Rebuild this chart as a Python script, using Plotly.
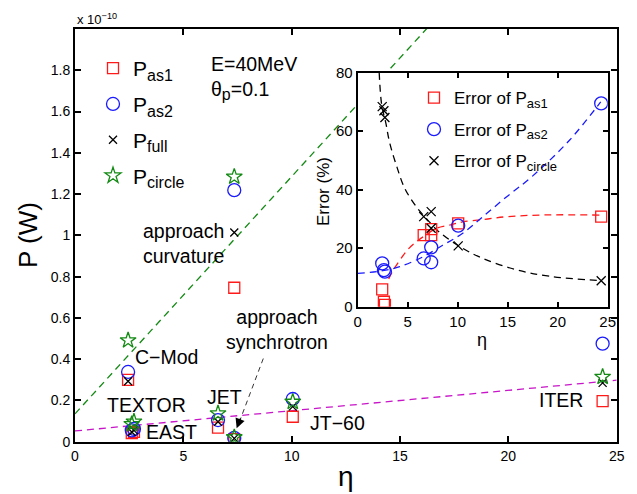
import plotly.graph_objects as go

# ---------------- data ----------------
# devices (order): C-Mod, EAST, TEXTOR, JET, (curvature case), (synchrotron case), JT-60, ITER
eta = [2.45, 2.62, 2.72, 6.6, 7.35, 7.35, 10.05, 24.35]
# powers in units of 1e-10 W
P_as1 = [0.300, 0.042, 0.048, 0.068, 0.746, 0.012, 0.121, 0.197]
P_as2 = [0.338, 0.055, 0.062, 0.105, 1.219, 0.0185, 0.207, 0.475]
P_full = [0.293, 0.047, 0.055, 0.097, 1.014, 0.016, 0.170, 0.285]
P_circle = [0.491, 0.085, 0.097, 0.137, 1.284, 0.021, 0.193, 0.314]

# main-panel dashed guide lines
green_eta = [0.0, 25.0]
green_P = [0.135, 3.01]
magenta_eta = [0.0, 25.0]
magenta_P = [0.052, 0.298]

# inset: errors in %
err_as1 = [5.9, 1.7, 0.6, 24.5, 26.5, 24.5, 28.5, 30.8]
err_as2 = [14.8, 12.5, 12.0, 16.5, 20.3, 15.2, 27.7, 69.5]
err_circle = [68.4, 67.0, 64.7, 30.8, 26.8, 32.5, 20.8, 8.9]

# inset dashed fit curves
fit_circle_eta = [2.15, 2.4, 2.8, 3.2, 3.9, 4.7, 5.9, 6.9, 8.0, 10.0, 12.5, 15.9, 19.2, 24.3]
fit_circle_err = [80.0, 69.0, 63.0, 56.0, 48.0, 40.5, 34.0, 30.0, 26.0, 21.0, 16.5, 12.6, 10.4, 8.9]
fit_as2_eta = [0.0, 2.5, 4.2, 6.5, 8.5, 10.5, 12.6, 14.9, 17.4, 21.2, 24.3]
fit_as2_err = [11.4, 12.3, 13.7, 17.0, 21.0, 25.1, 31.0, 37.6, 44.4, 57.0, 70.0]
fit_as1_eta = [3.1, 3.56, 4.23, 5.06, 5.9, 6.8, 7.9, 9.2, 10.5, 12.57, 15.0, 19.2, 24.3]
fit_as1_err = [9.5, 12.5, 16.0, 19.7, 22.3, 24.5, 26.8, 27.9, 29.0, 29.8, 30.8, 31.4, 31.3]

x_ticks = [0, 5, 10, 15, 20, 25]
y_ticks = [0, 0.2, 0.4, 0.6, 0.8, 1.0, 1.2, 1.4, 1.6, 1.8]
y_ticklabels = ["0", "0.2", "0.4", "0.6", "0.8", "1", "1.2", "1.4", "1.6", "1.8"]
inset_y_ticks = [0, 20, 40, 60, 80]

FONT = "Liberation Sans, Arial, Helvetica, sans-serif"
W, H = 637, 494
DASH = "7px,5px"

def sub(s, size):
    return "<sub><span style='font-size:%dpx'>%s</span></sub>" % (size, s)

fig = go.Figure()

# ---- main panel ----
fig.add_trace(go.Scatter(x=green_eta, y=green_P, mode="lines",
                         line=dict(color="#138a13", width=1.3, dash=DASH),
                         showlegend=False, hoverinfo="skip", xaxis="x", yaxis="y"))
fig.add_trace(go.Scatter(x=magenta_eta, y=magenta_P, mode="lines",
                         line=dict(color="#c814c8", width=1.3, dash=DASH),
                         showlegend=False, hoverinfo="skip", xaxis="x", yaxis="y"))

fig.add_trace(go.Scatter(x=eta, y=P_as1, mode="markers", name="P" + sub("as1", 16),
                         legend="legend", legendgroup="a",
                         marker=dict(symbol="square-open", size=11, color="#ff1a1a", line=dict(width=1.3)),
                         xaxis="x", yaxis="y"))
fig.add_trace(go.Scatter(x=eta, y=P_as2, mode="markers", name="P" + sub("as2", 16),
                         legend="legend", legendgroup="b",
                         marker=dict(symbol="circle-open", size=13, color="#1a1aff", line=dict(width=1.3)),
                         xaxis="x", yaxis="y"))
fig.add_trace(go.Scatter(x=eta, y=P_full, mode="markers", name="P" + sub("full", 16),
                         legend="legend", legendgroup="c",
                         marker=dict(symbol="x-thin-open", size=8, color="black", line=dict(width=1.3)),
                         xaxis="x", yaxis="y"))
fig.add_trace(go.Scatter(x=eta, y=P_circle, mode="markers", name="P" + sub("circle", 16),
                         legend="legend", legendgroup="d",
                         marker=dict(symbol="star-open", size=12, color="#138a13", line=dict(width=1.3)),
                         xaxis="x", yaxis="y"))

# ---- inset ----
fig.add_trace(go.Scatter(x=fit_as1_eta, y=fit_as1_err, mode="lines", line_shape="spline",
                         line=dict(color="#ff1a1a", width=1.3, dash=DASH),
                         showlegend=False, hoverinfo="skip", xaxis="x2", yaxis="y2"))
fig.add_trace(go.Scatter(x=fit_as2_eta, y=fit_as2_err, mode="lines", line_shape="spline",
                         line=dict(color="#1a1aff", width=1.3, dash=DASH),
                         showlegend=False, hoverinfo="skip", xaxis="x2", yaxis="y2"))
fig.add_trace(go.Scatter(x=fit_circle_eta, y=fit_circle_err, mode="lines", line_shape="spline",
                         line=dict(color="black", width=1.3, dash=DASH),
                         showlegend=False, hoverinfo="skip", xaxis="x2", yaxis="y2"))

fig.add_trace(go.Scatter(x=eta, y=err_as1, mode="markers", name="Error of P" + sub("as1", 13),
                         legend="legend2", legendgroup="e",
                         marker=dict(symbol="square-open", size=11, color="#ff1a1a", line=dict(width=1.3)),
                         xaxis="x2", yaxis="y2"))
fig.add_trace(go.Scatter(x=eta, y=err_as2, mode="markers", name="Error of P" + sub("as2", 13),
                         legend="legend2", legendgroup="f",
                         marker=dict(symbol="circle-open", size=13, color="#1a1aff", line=dict(width=1.3)),
                         xaxis="x2", yaxis="y2"))
fig.add_trace(go.Scatter(x=eta, y=err_circle, mode="markers", name="Error of P" + sub("circle", 13),
                         legend="legend2", legendgroup="g",
                         marker=dict(symbol="x-thin-open", size=9, color="black", line=dict(width=1.3)),
                         xaxis="x2", yaxis="y2"))

def px(x):
    return x / W

def py(y):
    return 1 - y / H

axis_common = dict(showline=True, linecolor="black", linewidth=2, mirror="ticks",
                   ticks="inside", tickcolor="black", tickwidth=1.5,
                   showgrid=False, zeroline=False, automargin=False)

fig.update_layout(
    template="none",
    width=W, height=H,
    margin=dict(l=0, r=0, t=0, b=0, pad=0, autoexpand=False),
    paper_bgcolor="white", plot_bgcolor="white",
    font=dict(family=FONT, color="black"),
    xaxis=dict(domain=[px(75), px(616.7)], range=[0, 25], tickvals=x_ticks, ticklen=6,
               tickfont=dict(size=14), anchor="y", **axis_common),
    yaxis=dict(domain=[py(441.7), py(29)], range=[0, 2.0], tickvals=y_ticks, ticktext=y_ticklabels,
               ticklen=6, tickfont=dict(size=14), anchor="x", **axis_common),
    xaxis2=dict(domain=[px(357.7), px(607.7)], range=[0, 25], tickvals=x_ticks, ticklen=5,
                tickfont=dict(size=15), anchor="y2", **axis_common),
    yaxis2=dict(domain=[py(306.7), py(72.7)], range=[0, 80], tickvals=inset_y_ticks, ticklen=5,
                tickfont=dict(size=15), anchor="x2", **axis_common),
    legend=dict(x=px(93), y=py(48), xanchor="left", yanchor="top", bgcolor="rgba(0,0,0,0)",
                font=dict(size=21), tracegroupgap=5.5, itemsizing="trace", borderwidth=0),
    legend2=dict(x=px(414), y=py(80), xanchor="left", yanchor="top", bgcolor="rgba(0,0,0,0)",
                 font=dict(size=17), tracegroupgap=6.5, itemsizing="trace", borderwidth=0),
)

ann = []
def text_ann(x, y, s, size, xref="x", yref="y", **kw):
    d = dict(x=x, y=y, xref=xref, yref=yref, text=s, showarrow=False,
             xanchor="center", yanchor="middle",
             font=dict(size=size, family=FONT, color="black"))
    d.update(kw)
    ann.append(d)

# device / approach labels (data coordinates)
text_ann(4.22, 0.41, "C−Mod", 19.5)
text_ann(3.28, 0.177, "TEXTOR", 19.5)
text_ann(4.46, 0.048, "EAST", 19.5)
text_ann(6.92, 0.217, "JET", 19.5)
text_ann(12.11, 0.089, "JT−60", 19.5)
text_ann(22.45, 0.201, "ITER", 19.5)
text_ann(5.03, 0.96, "approach<br>curvature", 19.5)
text_ann(9.32, 0.544, "approach<br>synchrotron", 19.5)
text_ann(px(209), py(78), "E=40MeV<br>θ" + sub("p", 16) + "=0.1", 19.5, xref="paper", yref="paper",
         xanchor="left", align="left")
text_ann(px(75), py(19), "x 10<sup>−10</sup>", 13, xref="paper", yref="paper", xanchor="left")

# axis titles
text_ann(px(346), py(476), "η", 28, xref="paper", yref="paper")
text_ann(px(28), py(235), "P (W)", 26, xref="paper", yref="paper", textangle=-90)
text_ann(px(481.7), py(340), "η", 18, xref="paper", yref="paper")
text_ann(px(323), py(192), "Error (%)", 17, xref="paper", yref="paper", textangle=-90)

# arrow head for "approach synchrotron"
ann.append(dict(x=7.46, y=0.065, xref="x", yref="y", text="", showarrow=True,
                ax=4.3, ay=-11.2, arrowhead=2, arrowsize=1.6, arrowwidth=1.2,
                arrowcolor="black", standoff=0))
fig.update_layout(annotations=ann)

fig.add_shape(type="line", x0=8.69, y0=0.403, x1=7.6, y1=0.10, xref="x", yref="y",
              line=dict(color="black", width=0.8, dash="5px,4px"))

fig.write_html("out.html", config={"displayModeBar": False},
               post_script="document.body.style.margin='0px';")
